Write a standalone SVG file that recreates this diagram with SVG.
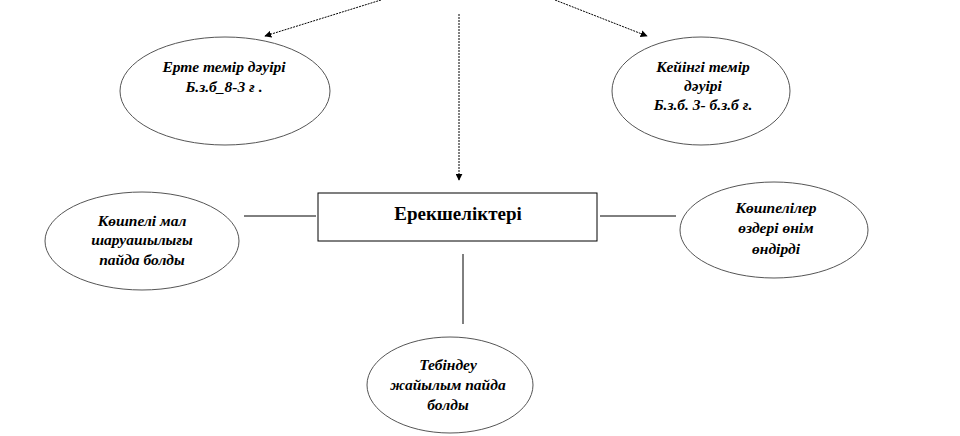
<svg xmlns="http://www.w3.org/2000/svg" width="960" height="436" viewBox="0 0 960 436">
<style>
.ell{fill:#fff;stroke:#555;stroke-width:1}
.t{font-family:"Liberation Serif","Times New Roman",serif;font-weight:bold;font-style:italic;font-size:15.5px;fill:#000;text-anchor:middle}
.h{font-family:"Liberation Serif","Times New Roman",serif;font-weight:bold;font-size:19px;fill:#000;text-anchor:middle}
.ln{stroke:#000;stroke-width:1;fill:none}
.dl{stroke:#000;stroke-width:1;fill:none;stroke-dasharray:2 1}
</style>
<defs>
<marker id="ah" viewBox="0 0 10 10" refX="9" refY="5" markerWidth="7" markerHeight="7" orient="auto" markerUnits="userSpaceOnUse">
<path d="M0,0 L10,5 L0,10 z" fill="#000"/>
</marker>
</defs>
<rect width="960" height="436" fill="#fff"/>
<g id="connectors">
<line class="dl" x1="381" y1="0" x2="265" y2="36" marker-end="url(#ah)"/>
<line class="dl" x1="555" y1="0" x2="647" y2="36" marker-end="url(#ah)"/>
<line class="dl" x1="459" y1="14" x2="459" y2="180" marker-end="url(#ah)"/>
<line class="ln" x1="244" y1="216" x2="316" y2="216"/>
<line class="ln" x1="600" y1="216" x2="676" y2="216"/>
<line class="ln" x1="463" y1="254" x2="463" y2="324"/>
</g>
<g id="early">
<ellipse class="ell" cx="225" cy="91" rx="105" ry="54"/>
<text class="t" x="224" y="72">Ерте темір дәуірі</text>
<text class="t" x="224" y="92">Б.з.б_8-3 ғ .</text>
</g>
<g id="late">
<ellipse class="ell" cx="701" cy="91" rx="89" ry="54"/>
<text class="t" x="703" y="72">Кейінгі темір</text>
<text class="t" x="703" y="91">дәуірі</text>
<text class="t" x="703" y="110">Б.з.б. 3- б.з.б ғ.</text>
</g>
<g id="center">
<rect x="318" y="193" width="279" height="48" fill="#fff" stroke="#000" stroke-width="1"/>
<text class="h" x="458" y="220">Ерекшеліктері</text>
</g>
<g id="left">
<ellipse class="ell" cx="142" cy="241" rx="97" ry="49"/>
<text class="t" x="142" y="226">Көшпелі мал</text>
<text class="t" x="142" y="245">шаруашылығы</text>
<text class="t" x="142" y="265">пайда болды</text>
</g>
<g id="right">
<ellipse class="ell" cx="774" cy="230" rx="94" ry="48"/>
<text class="t" x="776" y="213">Көшпелілер</text>
<text class="t" x="776" y="233">өздері өнім</text>
<text class="t" x="776" y="254">өндірді</text>
</g>
<g id="bottom">
<ellipse class="ell" cx="450" cy="385" rx="83" ry="48"/>
<text class="t" x="448" y="370">Тебіндеу</text>
<text class="t" x="448" y="390">жайылым пайда</text>
<text class="t" x="448" y="410">болды</text>
</g>
</svg>
